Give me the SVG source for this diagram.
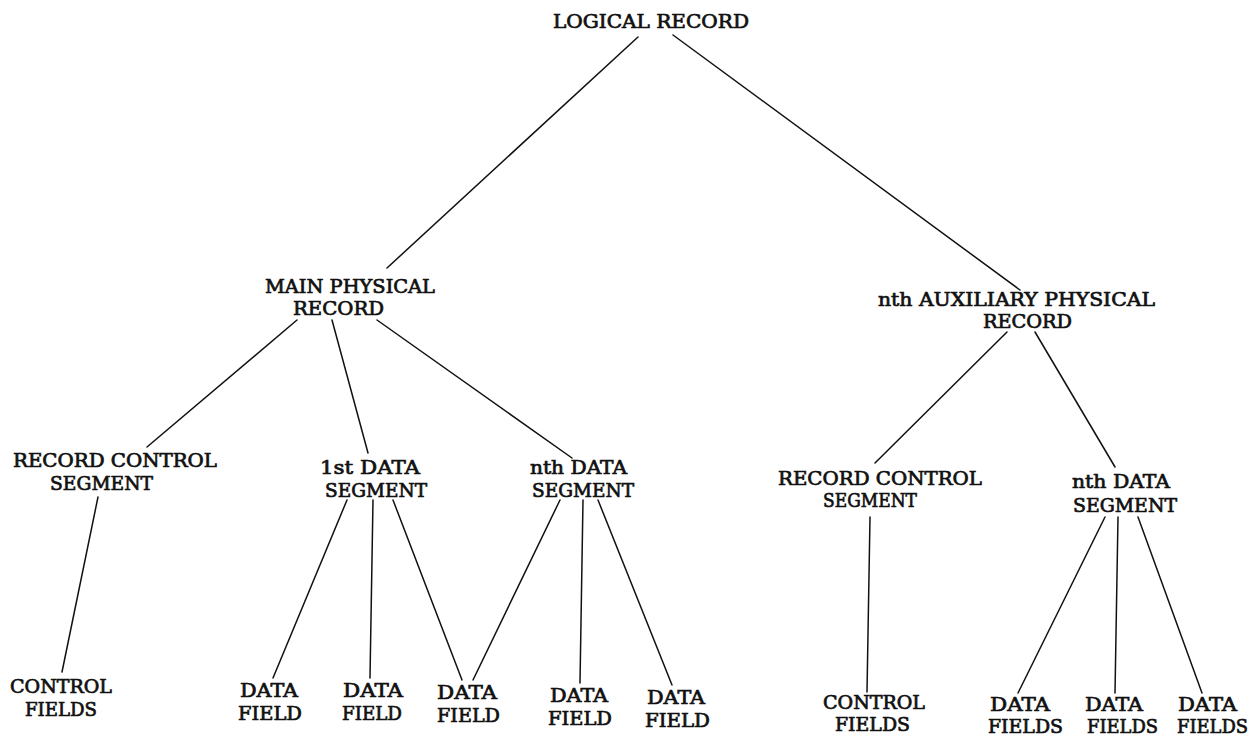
<svg xmlns="http://www.w3.org/2000/svg" width="1254" height="738" viewBox="0 0 1254 738">
  <style>
    .lbl { font-family: "DejaVu Serif", "Liberation Serif", serif; font-size: 18.5px; fill: #111; stroke: #111; stroke-width: 0.7; }
    .edge { stroke: #111; stroke-width: 1.5; fill: none; stroke-linecap: round; }
  </style>
  <rect width="1254" height="738" fill="#fff"/>

  <!-- connectors -->
  <g id="connectors" class="edge">
    <line x1="638" y1="37" x2="387" y2="268"/>
    <line x1="673" y1="35" x2="1020" y2="290"/>
    <line x1="297" y1="320" x2="147" y2="447"/>
    <line x1="332" y1="320" x2="368" y2="453"/>
    <line x1="377" y1="320" x2="572" y2="458"/>
    <line x1="98" y1="497" x2="62" y2="672"/>
    <line x1="347" y1="500" x2="273" y2="678"/>
    <line x1="373" y1="500" x2="370" y2="678"/>
    <line x1="393" y1="500" x2="462" y2="680"/>
    <line x1="560" y1="500" x2="473" y2="680"/>
    <line x1="583" y1="500" x2="580" y2="683"/>
    <line x1="598" y1="500" x2="672" y2="685"/>
    <line x1="1007" y1="332" x2="875" y2="463"/>
    <line x1="1035" y1="332" x2="1115" y2="467"/>
    <line x1="870" y1="517" x2="867" y2="692"/>
    <line x1="1105" y1="517" x2="1018" y2="693"/>
    <line x1="1118" y1="517" x2="1115" y2="693"/>
    <line x1="1138" y1="517" x2="1202" y2="693"/>
  </g>

  <g id="logical-record">
    <text class="lbl" x="553" y="28" textLength="196" lengthAdjust="spacingAndGlyphs">LOGICAL RECORD</text>
  </g>

  <g id="main-physical-record">
    <text class="lbl" x="265" y="293" textLength="170" lengthAdjust="spacingAndGlyphs">MAIN PHYSICAL</text>
    <text class="lbl" x="293" y="315" textLength="91" lengthAdjust="spacingAndGlyphs">RECORD</text>
  </g>

  <g id="aux-physical-record">
    <text class="lbl" x="878" y="306" textLength="277" lengthAdjust="spacingAndGlyphs">nth AUXILIARY PHYSICAL</text>
    <text class="lbl" x="983" y="328" textLength="89" lengthAdjust="spacingAndGlyphs">RECORD</text>
  </g>

  <g id="record-control-segment-main">
    <text class="lbl" x="13" y="467" textLength="204" lengthAdjust="spacingAndGlyphs">RECORD CONTROL</text>
    <text class="lbl" x="50" y="490" textLength="103" lengthAdjust="spacingAndGlyphs">SEGMENT</text>
  </g>

  <g id="first-data-segment">
    <text class="lbl" x="320" y="474" textLength="100" lengthAdjust="spacingAndGlyphs">1st DATA</text>
    <text class="lbl" x="325" y="497" textLength="102" lengthAdjust="spacingAndGlyphs">SEGMENT</text>
  </g>

  <g id="nth-data-segment-main">
    <text class="lbl" x="530" y="474" textLength="97" lengthAdjust="spacingAndGlyphs">nth DATA</text>
    <text class="lbl" x="532" y="497" textLength="102" lengthAdjust="spacingAndGlyphs">SEGMENT</text>
  </g>

  <g id="record-control-segment-aux">
    <text class="lbl" x="778" y="485" textLength="204" lengthAdjust="spacingAndGlyphs">RECORD CONTROL</text>
    <text class="lbl" x="823" y="507" textLength="94" lengthAdjust="spacingAndGlyphs">SEGMENT</text>
  </g>

  <g id="nth-data-segment-aux">
    <text class="lbl" x="1072" y="488" textLength="98" lengthAdjust="spacingAndGlyphs">nth DATA</text>
    <text class="lbl" x="1073" y="512" textLength="104" lengthAdjust="spacingAndGlyphs">SEGMENT</text>
  </g>

  <g id="control-fields-main">
    <text class="lbl" x="10" y="693" textLength="102" lengthAdjust="spacingAndGlyphs">CONTROL</text>
    <text class="lbl" x="25" y="716" textLength="72" lengthAdjust="spacingAndGlyphs">FIELDS</text>
  </g>

  <g id="data-field-1">
    <text class="lbl" x="240" y="697" textLength="58" lengthAdjust="spacingAndGlyphs">DATA</text>
    <text class="lbl" x="238" y="720" textLength="64" lengthAdjust="spacingAndGlyphs">FIELD</text>
  </g>
  <g id="data-field-2">
    <text class="lbl" x="343" y="697" textLength="60" lengthAdjust="spacingAndGlyphs">DATA</text>
    <text class="lbl" x="342" y="720" textLength="60" lengthAdjust="spacingAndGlyphs">FIELD</text>
  </g>
  <g id="data-field-3">
    <text class="lbl" x="437" y="699" textLength="60" lengthAdjust="spacingAndGlyphs">DATA</text>
    <text class="lbl" x="437" y="722" textLength="63" lengthAdjust="spacingAndGlyphs">FIELD</text>
  </g>
  <g id="data-field-4">
    <text class="lbl" x="550" y="702" textLength="58" lengthAdjust="spacingAndGlyphs">DATA</text>
    <text class="lbl" x="548" y="725" textLength="64" lengthAdjust="spacingAndGlyphs">FIELD</text>
  </g>
  <g id="data-field-5">
    <text class="lbl" x="647" y="704" textLength="58" lengthAdjust="spacingAndGlyphs">DATA</text>
    <text class="lbl" x="645" y="727" textLength="65" lengthAdjust="spacingAndGlyphs">FIELD</text>
  </g>

  <g id="control-fields-aux">
    <text class="lbl" x="823" y="709" textLength="102" lengthAdjust="spacingAndGlyphs">CONTROL</text>
    <text class="lbl" x="835" y="731" textLength="75" lengthAdjust="spacingAndGlyphs">FIELDS</text>
  </g>

  <g id="data-fields-1">
    <text class="lbl" x="990" y="711" textLength="60" lengthAdjust="spacingAndGlyphs">DATA</text>
    <text class="lbl" x="988" y="733" textLength="75" lengthAdjust="spacingAndGlyphs">FIELDS</text>
  </g>
  <g id="data-fields-2">
    <text class="lbl" x="1085" y="711" textLength="58" lengthAdjust="spacingAndGlyphs">DATA</text>
    <text class="lbl" x="1087" y="733" textLength="71" lengthAdjust="spacingAndGlyphs">FIELDS</text>
  </g>
  <g id="data-fields-3">
    <text class="lbl" x="1178" y="711" textLength="59" lengthAdjust="spacingAndGlyphs">DATA</text>
    <text class="lbl" x="1177" y="733" textLength="71" lengthAdjust="spacingAndGlyphs">FIELDS</text>
  </g>
</svg>
